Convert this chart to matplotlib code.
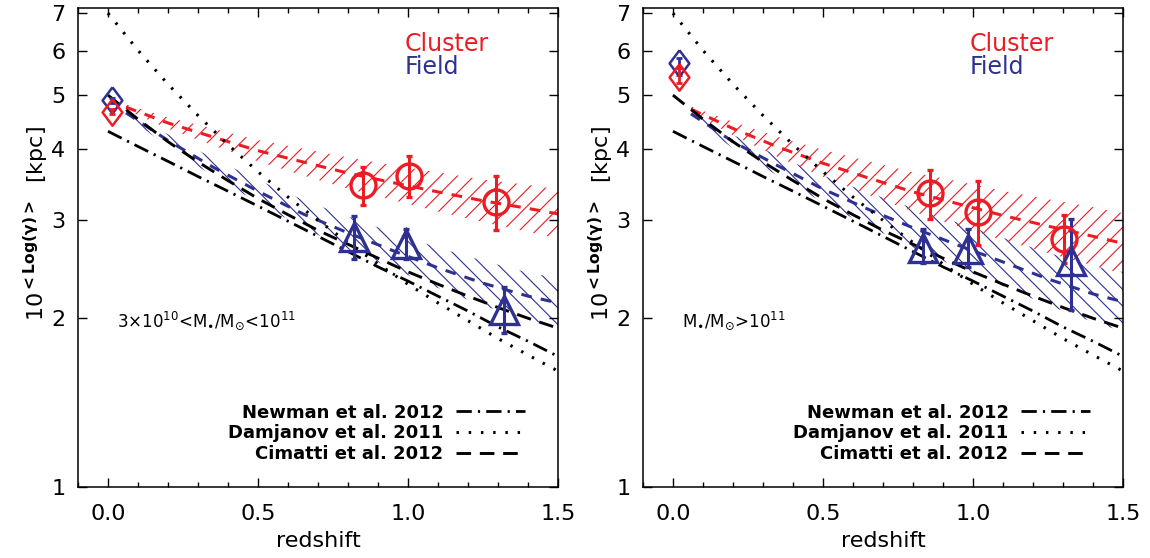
import numpy as np
import matplotlib
matplotlib.use('Agg')
from matplotlib import pyplot as plt
from matplotlib.ticker import FixedLocator, NullLocator, MultipleLocator, FormatStrFormatter

# ---- data ----
# literature relations (same in both panels)
z_lit = [0.0, 0.1, 0.2, 0.3, 0.4, 0.5, 0.6, 0.7, 0.8, 0.9, 1.0, 1.1, 1.2, 1.3, 1.4, 1.5]
newman = [4.31, 4.05, 3.81, 3.58, 3.37, 3.17, 2.98, 2.80, 2.63, 2.47, 2.33, 2.19, 2.06, 1.93, 1.82, 1.71]
damjanov = [7.00, 6.01, 5.23, 4.60, 4.08, 3.65, 3.29, 2.99, 2.73, 2.50, 2.30, 2.13, 1.98, 1.84, 1.72, 1.61]
cimatti = [5.00, 4.53, 4.13, 3.80, 3.52, 3.27, 3.06, 2.87, 2.71, 2.56, 2.42, 2.30, 2.19, 2.09, 2.00, 1.92]

# fitted bands: centre and half width (dex)
z_band = [0.06, 0.2, 0.35, 0.5, 0.65, 0.8, 0.95, 1.1, 1.25, 1.4, 1.5]
left_red_fit = [4.76, 4.46, 4.21, 3.98, 3.80, 3.63, 3.49, 3.36, 3.24, 3.14, 3.07]
left_red_hw = [0.005, 0.010, 0.015, 0.019, 0.024, 0.028, 0.031, 0.035, 0.038, 0.042, 0.044]
left_blue_fit = [4.65, 4.15, 3.72, 3.37, 3.07, 2.84, 2.64, 2.46, 2.31, 2.19, 2.13]
left_blue_hw = [0.005, 0.011, 0.016, 0.020, 0.025, 0.029, 0.032, 0.036, 0.040, 0.042, 0.044]
right_red_fit = [4.72, 4.36, 4.04, 3.78, 3.56, 3.36, 3.20, 3.05, 2.92, 2.80, 2.72]
right_red_hw = [0.005, 0.012, 0.018, 0.024, 0.030, 0.035, 0.040, 0.044, 0.048, 0.052, 0.054]
right_blue_fit = [4.63, 4.13, 3.74, 3.40, 3.13, 2.90, 2.70, 2.52, 2.35, 2.21, 2.14]
right_blue_hw = [0.005, 0.012, 0.018, 0.024, 0.030, 0.035, 0.040, 0.043, 0.047, 0.050, 0.053]

# local (z~0) points
left_loc_z = [0.015]
left_loc_red, left_loc_red_lo, left_loc_red_hi = [4.67], [4.62], [4.72]
left_loc_blue, left_loc_blue_lo, left_loc_blue_hi = [4.90], [4.85], [4.95]
right_loc_z = [0.02]
right_loc_red, right_loc_red_lo, right_loc_red_hi = [5.38], [5.25], [5.58]
right_loc_blue, right_loc_blue_lo, right_loc_blue_hi = [5.70], [5.42], [5.82]

# cluster (circles) and field (triangles)
left_clu_z = [0.85, 1.005, 1.295]
left_clu = [3.46, 3.58, 3.22]
left_clu_lo = [3.19, 3.29, 2.87]
left_clu_hi = [3.72, 3.90, 3.58]
left_fld_z = [0.821, 0.993, 1.321]
left_fld = [2.79, 2.71, 2.07]
left_fld_lo = [2.55, 2.55, 1.88]
left_fld_hi = [3.04, 2.88, 2.27]

right_clu_z = [0.858, 1.018, 1.304]
right_clu = [3.35, 3.10, 2.77]
right_clu_lo = [3.01, 2.70, 2.51]
right_clu_hi = [3.68, 3.51, 3.06]
right_fld_z = [0.833, 0.985, 1.328]
right_fld = [2.67, 2.66, 2.53]
right_fld_lo = [2.51, 2.47, 2.07]
right_fld_hi = [2.89, 2.89, 3.01]

mass_labels = [r'3×10$^{10}$<M$_{\bullet}$/M$_{\odot}$<10$^{11}$',
               r'M$_{\bullet}$/M$_{\odot}$>10$^{11}$']
yticks = [1, 2, 3, 4, 5, 6, 7]

RED = '#ec1c24'
BLUE = '#2e3192'

plt.rcParams['mathtext.default'] = 'regular'
plt.rcParams['hatch.linewidth'] = 0.8
plt.rcParams['axes.linewidth'] = 1.1

fig = plt.figure(figsize=(11.5, 5.58), dpi=100)
ax1 = fig.add_axes([0.0678, 0.1272, 0.4174, 0.8584])
ax2 = fig.add_axes([0.5591, 0.1272, 0.4174, 0.8584])

diamond = [(0, 1), (0.75, 0), (0, -1), (-0.75, 0), (0, 1)]

panels = [
    (ax1, left_red_fit, left_red_hw, left_blue_fit, left_blue_hw,
     left_loc_z, left_loc_red, left_loc_red_lo, left_loc_red_hi,
     left_loc_blue, left_loc_blue_lo, left_loc_blue_hi,
     left_clu_z, left_clu, left_clu_lo, left_clu_hi,
     left_fld_z, left_fld, left_fld_lo, left_fld_hi, mass_labels[0]),
    (ax2, right_red_fit, right_red_hw, right_blue_fit, right_blue_hw,
     right_loc_z, right_loc_red, right_loc_red_lo, right_loc_red_hi,
     right_loc_blue, right_loc_blue_lo, right_loc_blue_hi,
     right_clu_z, right_clu, right_clu_lo, right_clu_hi,
     right_fld_z, right_fld, right_fld_lo, right_fld_hi, mass_labels[1]),
]

zb = np.array(z_band)
for (ax, rfit, rhw, bfit, bhw, lz, lr, lrlo, lrhi, lb, lblo, lbhi,
     cz, cy, clo, chi, fz, fy, flo, fhi, mlabel) in panels:
    rfit, rhw = np.array(rfit), np.array(rhw)
    bfit, bhw = np.array(bfit), np.array(bhw)

    # hatched bands
    ax.fill_between(zb, bfit * 10**(-bhw), bfit * 10**bhw, facecolor='none',
                    edgecolor=BLUE, hatch='\\\\', linewidth=0, zorder=1)
    ax.fill_between(zb, rfit * 10**(-rhw), rfit * 10**rhw, facecolor='none',
                    edgecolor=RED, hatch='//', linewidth=0, zorder=1)
    ax.plot(zb, bfit, color=BLUE, lw=2.2, dashes=(3.5, 3.0), zorder=2)
    ax.plot(zb, rfit, color=RED, lw=2.2, dashes=(3.5, 3.0), zorder=2)

    # literature lines
    ax.plot(z_lit, newman, color='k', lw=2.0, dashes=(5.5, 2.2, 0.8, 2.2),
            label='Newman et al. 2012', zorder=3)
    ax.plot(z_lit, damjanov, color='k', lw=2.2, dashes=(0.8, 3.2),
            label='Damjanov et al. 2011', zorder=3)
    ax.plot(z_lit, cimatti, color='k', lw=2.1, dashes=(5.0, 3.0),
            label='Cimatti et al. 2012', zorder=3)

    # data points
    ax.errorbar(lz, lb, yerr=[np.subtract(lb, lblo), np.subtract(lbhi, lb)],
                fmt='none', ecolor=BLUE, elinewidth=2, capsize=2, capthick=2, zorder=4)
    ax.plot(lz, lb, ls='none', marker=diamond, ms=19, mfc='none', mec=BLUE, mew=1.8, zorder=4)
    ax.errorbar(lz, lr, yerr=[np.subtract(lr, lrlo), np.subtract(lrhi, lr)],
                fmt='none', ecolor=RED, elinewidth=2, capsize=2, capthick=2, zorder=4)
    ax.plot(lz, lr, ls='none', marker=diamond, ms=19, mfc='none', mec=RED, mew=1.8, zorder=4)

    ax.errorbar(cz, cy, yerr=[np.subtract(cy, clo), np.subtract(chi, cy)],
                fmt='o', ms=18, mfc='none', mec=RED, mew=2.4, ecolor=RED,
                elinewidth=2.2, capsize=2.2, capthick=2.5, zorder=5)
    ax.errorbar(fz, fy, yerr=[np.subtract(fy, flo), np.subtract(fhi, fy)],
                fmt='^', ms=20, mfc='none', mec=BLUE, mew=2.4, ecolor=BLUE,
                elinewidth=2.2, capsize=2.2, capthick=2.5, zorder=5)

    # texts
    ax.text(0.99, 6.18, 'Cluster', color=RED, fontsize=17, va='center', ha='left')
    ax.text(0.99, 5.62, 'Field', color=BLUE, fontsize=17, va='center', ha='left')
    ax.text(0.03, 1.98, mlabel, fontsize=12, va='center', ha='left')

    ax.legend(loc='lower right', bbox_to_anchor=(0.931, 0.05), frameon=False,
              markerfirst=False, handlelength=3.8, handletextpad=0.7,
              labelspacing=0.15, borderpad=0, borderaxespad=0,
              prop={'size': 13, 'weight': 'bold'})

    ax.set_yscale('log')
    ax.set_xlim(-0.1, 1.5)
    ax.set_ylim(1, 7.15)
    ax.yaxis.set_major_locator(FixedLocator(yticks))
    ax.yaxis.set_major_formatter(FormatStrFormatter('%d'))
    ax.yaxis.set_minor_locator(NullLocator())
    ax.xaxis.set_major_locator(MultipleLocator(0.5))
    ax.xaxis.set_minor_locator(MultipleLocator(0.1))
    ax.xaxis.set_major_formatter(FormatStrFormatter('%.1f'))
    ax.tick_params(which='both', direction='in', top=True, right=True, labelsize=16)
    ax.tick_params(which='major', length=6.5, width=1)
    ax.tick_params(which='minor', length=3.6, width=1)
    ax.tick_params(axis='x', pad=12)
    ax.tick_params(axis='y', pad=9)

    ax.set_xlabel('redshift', fontsize=16, labelpad=5)
    ax.set_ylabel(r'$10^{\mathbf{<Log(\gamma)>}}$  [kpc]', fontsize=16, labelpad=0, y=0.55)

fig.savefig('out.png', dpi=100)
